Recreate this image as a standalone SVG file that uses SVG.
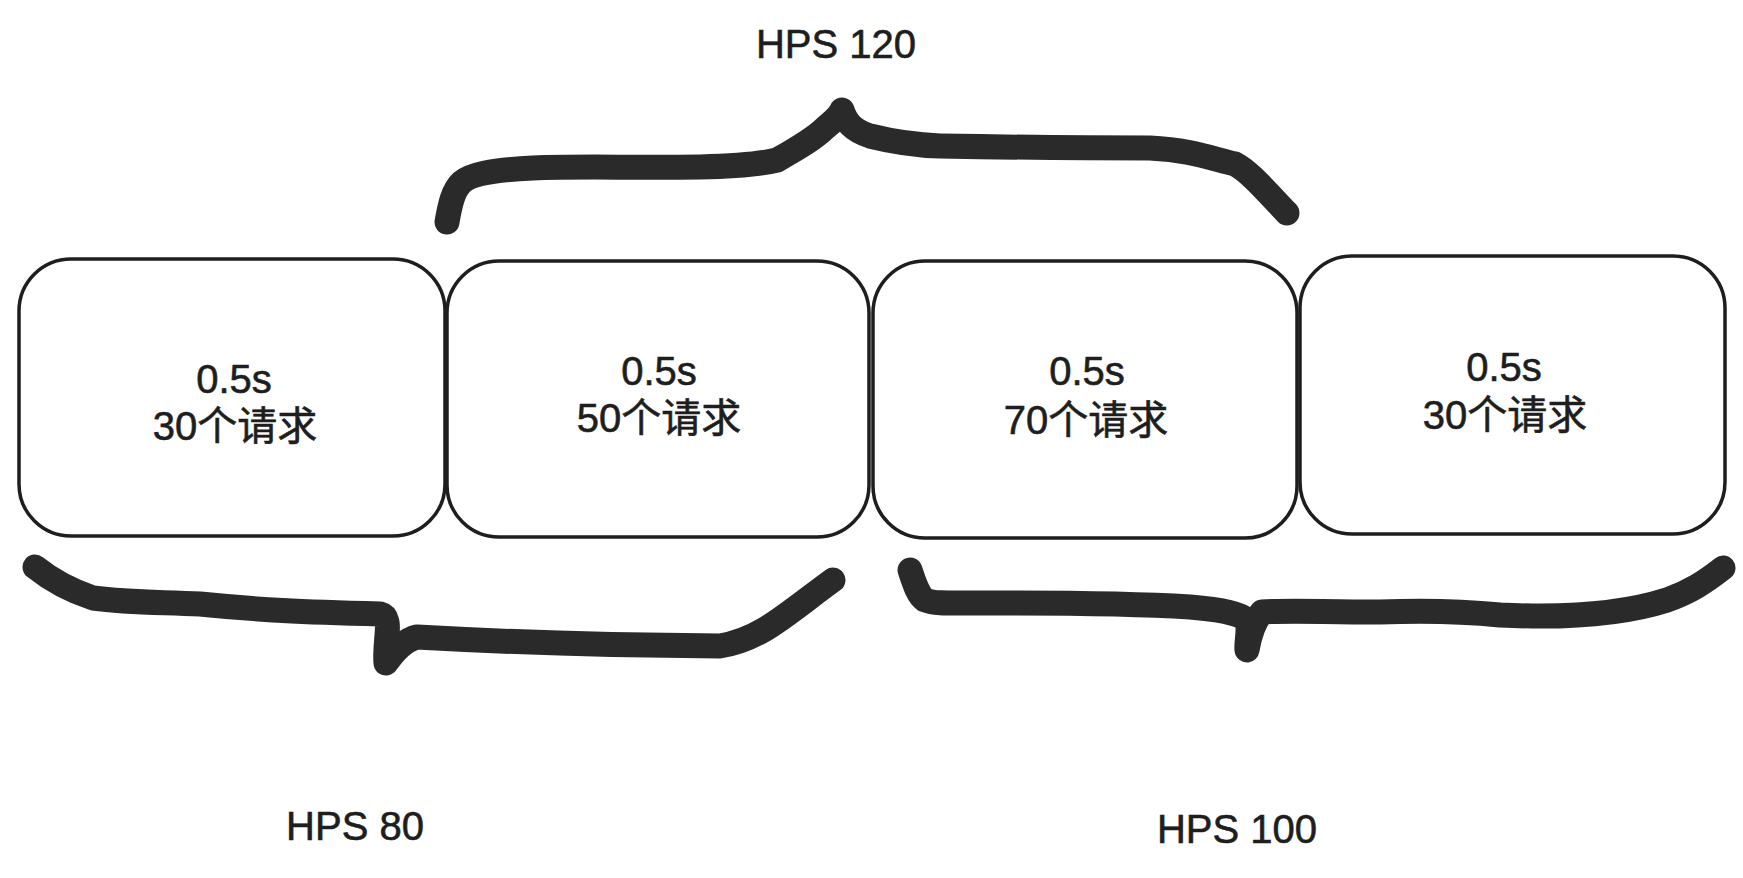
<svg xmlns="http://www.w3.org/2000/svg" width="1743" height="878" viewBox="0 0 1743 878">
<style>
.box{fill:#fff;stroke:#1e1e1e;stroke-width:3.5}
.t{font-family:"Liberation Sans","Noto Sans CJK SC",sans-serif;font-size:40px;fill:#1e1e1e;stroke:#1e1e1e;stroke-width:0.6;text-anchor:middle}
.brace{fill:none;stroke:#2a2a2a;stroke-width:25;stroke-linecap:round;stroke-linejoin:round}
</style>
<rect width="1743" height="878" fill="#fff"/>
<g id="box1"><rect class="box" x="19" y="259" width="426" height="277" rx="52"/><text class="t" x="234" y="393">0.5s</text><text class="t" x="235" y="440">30个请求</text></g>
<g id="box2"><rect class="box" x="447" y="261" width="422" height="276" rx="52"/><text class="t" x="659" y="385">0.5s</text><text class="t" x="659" y="432">50个请求</text></g>
<g id="box3"><rect class="box" x="873" y="261" width="424" height="277" rx="52"/><text class="t" x="1087" y="385">0.5s</text><text class="t" x="1086" y="434">70个请求</text></g>
<g id="box4"><rect class="box" x="1300" y="256" width="425" height="278" rx="52"/><text class="t" x="1504" y="381">0.5s</text><text class="t" x="1505" y="429">30个请求</text></g>
<g id="connectors">
<path id="brace-top" class="brace" d="M447,222 C450,205 453,190 462,182 C470,175 490,170 533,168 C580,166 630,168 700,167 C740,166 765,163 777,160 C800,147 815,138 825,128 C835,120 840,115 842,110 C846,122 852,130 870,136 C890,141 910,145 940,146 C1000,147 1080,148 1150,148 C1190,150 1210,158 1235,164 C1250,172 1265,190 1287,213"/>
<path id="brace-bl" class="brace" d="M35,567 C55,583 75,592 93,598 C130,603 160,602 200,604 C260,610 300,612 380,614 C388,616 388,625 387,635 C386,648 385,658 386,663 C395,650 405,640 417,637 C470,640 560,645 720,646 C760,640 785,615 833,580"/>
<path id="brace-br" class="brace" d="M910,570 C915,585 918,595 925,600 C935,604 945,603 1000,603 C1080,603 1140,604 1190,607 C1225,610 1240,614 1247,620 C1250,630 1246,642 1247,650 C1249,638 1252,624 1262,612 C1290,610 1320,612 1380,612 C1430,610 1470,612 1500,615 C1560,618 1620,615 1667,600 C1690,592 1705,582 1723,568"/>
</g>
<g id="label-120"><text class="t" x="836" y="58">HPS 120</text></g>
<g id="label-80"><text class="t" x="355" y="840">HPS 80</text></g>
<g id="label-100"><text class="t" x="1237" y="843">HPS 100</text></g>
</svg>
